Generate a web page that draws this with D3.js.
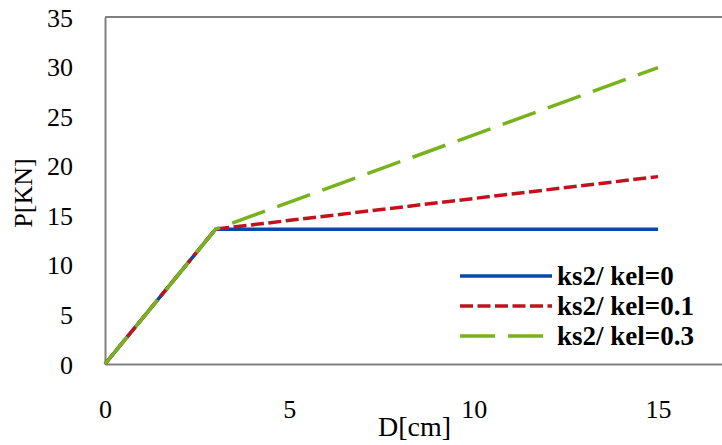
<!DOCTYPE html>
<html><head><meta charset="utf-8">
<script src="https://cdn.jsdelivr.net/npm/d3@7"></script>
<style>html,body{margin:0;padding:0;background:#fff;overflow:hidden}
svg text{font-family:"Liberation Serif","Times New Roman","DejaVu Serif",serif !important}</style>
</head><body>
<svg id="c" width="722" height="445"></svg>
<script>
// Data
const seriesNames = ["ks2/ kel=0", "ks2/ kel=0.1", "ks2/ kel=0.3"];
const xValues = [0, 3, 15];
const yBlue = [0, 13.6, 13.6];
const yRed = [0, 13.6, 18.9];
const yGreen = [0, 13.6, 29.9];
const xTicks = [0, 5, 10, 15];
const yTicks = [0, 5, 10, 15, 20, 25, 30, 35];
const colors = ["#0747a6", "#c0131c", "#78b21c"];
const dashes = [null, "13,4.5", "35,13"];

const svg = d3.select("#c");
const x = d3.scaleLinear().domain([0, 20]).range([105, 105 + 20 * 36.87]);
const y = d3.scaleLinear().domain([0, 35]).range([364, 17]);

// frame
svg.append("line").attr("x1", x(0)).attr("x2", 722).attr("y1", y(35)).attr("y2", y(35))
  .attr("stroke", "#808080").attr("stroke-width", 2);
const xAxis = svg.append("g").attr("transform", `translate(0,${y(0)})`)
  .call(d3.axisBottom(x).tickValues(xTicks).tickSize(0).tickPadding(36).tickFormat(d3.format("d")));
const yAxis = svg.append("g").attr("transform", `translate(${x(0)},0)`)
  .call(d3.axisLeft(y).tickValues(yTicks).tickSize(0).tickPadding(32).tickFormat(d3.format("d")));
[xAxis, yAxis].forEach(g => {
  g.select(".domain").attr("stroke", "#808080").attr("stroke-width", 2);
  g.selectAll("text").attr("font-size", 26).attr("fill", "#000");
});
yAxis.selectAll("text").attr("dy", "0.35em");
xAxis.selectAll("text").attr("dy", "0.7em");

// lines
const line = d3.line().x(d => x(d[0])).y(d => y(d[1]));
const allY = [yBlue, yRed, yGreen];
allY.forEach((ys, i) => {
  svg.append("path").datum(xValues.map((v, j) => [v, ys[j]]))
    .attr("d", line).attr("fill", "none").attr("stroke", colors[i])
    .attr("stroke-width", 3.5).attr("stroke-dasharray", dashes[i]);
});

// axis titles
svg.append("text").attr("x", 378).attr("y", 436)
  .attr("font-size", 28).text("D[cm]");
svg.append("text").attr("transform", "translate(32,193) rotate(-90)")
  .attr("text-anchor", "middle").attr("font-size", 26).text("P[KN]");

// legend
const ly = [276, 306, 336];
seriesNames.forEach((n, i) => {
  svg.append("line").attr("x1", 460).attr("x2", 552).attr("y1", ly[i]).attr("y2", ly[i])
    .attr("stroke", colors[i]).attr("stroke-width", 3.5).attr("stroke-dasharray", dashes[i]);
  svg.append("text").attr("x", 557).attr("y", ly[i]).attr("dy", "0.35em")
    .attr("font-size", 27).attr("font-weight", "bold").text(n);
});
</script>
</body></html>
